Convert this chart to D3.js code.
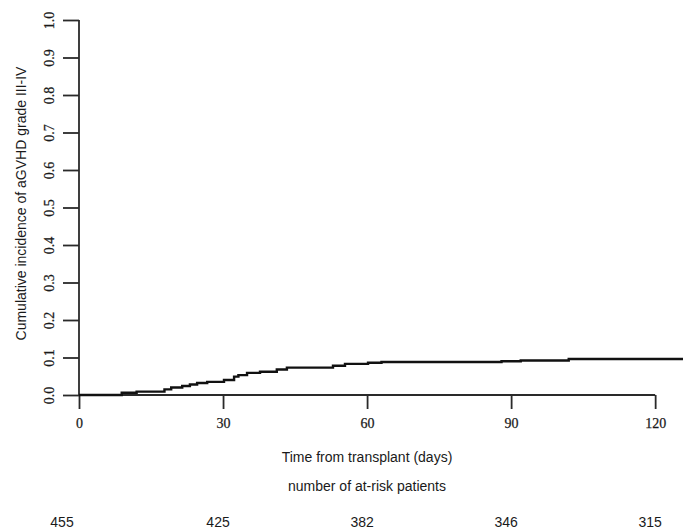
<!DOCTYPE html>
<html>
<head>
<meta charset="utf-8">
<script src="https://cdn.jsdelivr.net/npm/d3@7"></script>
<style>
  body { margin: 0; background: #fff; }
  svg { display: block; }
</style>
</head>
<body>
<div id="chart"></div>
<script>
// step times (days) and cumulative incidence
const stepDays = [0, 8.9, 12, 17.8, 19.2, 21.5, 23.1, 24.6, 26.7, 30.2, 32.3, 33.2, 35, 37.7, 41.2, 43.3, 52.9, 55.4, 60.2, 63, 88, 92, 102, 125.8];
const stepValues = [0, 0.006, 0.009, 0.015, 0.02, 0.024, 0.028, 0.032, 0.035, 0.04, 0.049, 0.053, 0.059, 0.062, 0.068, 0.073, 0.078, 0.083, 0.086, 0.088, 0.09, 0.092, 0.096, 0.096];

const xTicks = [0, 30, 60, 90, 120];
const yTicks = [0, 0.1, 0.2, 0.3, 0.4, 0.5, 0.6, 0.7, 0.8, 0.9, 1.0];
const riskTimes = [0, 30, 60, 90, 120];
const riskCounts = [455, 425, 382, 346, 315];

const width = 691;
const height = 532;
const marginLeft = 79;
const marginTop = 20;
const plotRight = 683;
const plotBottom = 395;

const x = d3.scaleLinear().domain([0, 125.8]).range([marginLeft, plotRight]);
const y = d3.scaleLinear().domain([0, 1]).range([plotBottom, marginTop]);

const svg = d3.select("#chart").append("svg")
    .attr("width", width)
    .attr("height", height);

const ink = "#1a1a1a";
const serif = "'Liberation Serif', 'DejaVu Serif', serif";
const sans = "'Liberation Sans', Arial, sans-serif";

// y axis
const yAxis = svg.append("g")
    .attr("transform", `translate(${marginLeft},0)`)
    .call(d3.axisLeft(y).tickValues(yTicks).tickFormat(d3.format(".1f")).tickSize(16).tickPadding(4));
yAxis.select(".domain").attr("d", `M0,${y(1)}V${y(0)}`);
yAxis.selectAll("line, path").attr("stroke", "#2a2a2a").attr("stroke-width", 1.8);
yAxis.selectAll("text")
    .attr("font-family", serif)
    .attr("font-size", 14)
    .attr("fill", ink)
    .attr("stroke", ink)
    .attr("stroke-width", 0.25)
    .attr("text-anchor", "middle")
    .attr("x", null).attr("dy", null)
    .attr("transform", d => `translate(-28,0) rotate(-90)`)
    .attr("dominant-baseline", "middle");

// x axis
const xAxis = svg.append("g")
    .attr("transform", `translate(0,${plotBottom})`)
    .call(d3.axisBottom(x).tickValues(xTicks).tickFormat(d3.format("d")).tickSize(14).tickPadding(9));
xAxis.select(".domain").attr("d", `M${x(0)},0H${x(120)}`);
xAxis.selectAll("line, path").attr("stroke", "#2a2a2a").attr("stroke-width", 1.8);
xAxis.selectAll("text")
    .attr("font-family", serif)
    .attr("font-size", 14)
    .attr("fill", ink)
    .attr("stroke", ink)
    .attr("stroke-width", 0.25);

// cumulative incidence step curve
const line = d3.line()
    .x((d, i) => x(stepDays[i]))
    .y((d, i) => y(stepValues[i]))
    .curve(d3.curveStepAfter);

svg.append("path")
    .datum(stepValues)
    .attr("fill", "none")
    .attr("stroke", "#111")
    .attr("stroke-width", 2.4)
    .attr("d", line);

// titles
svg.append("text")
    .attr("transform", `translate(22,${(marginTop + plotBottom) / 2 - 4}) rotate(-90)`)
    .attr("text-anchor", "middle")
    .attr("dominant-baseline", "middle")
    .attr("font-family", sans)
    .attr("font-size", 14)
    .attr("fill", ink)
    .text("Cumulative incidence of aGVHD grade III-IV");

svg.append("text")
    .attr("x", 367)
    .attr("y", 462)
    .attr("text-anchor", "middle")
    .attr("font-family", sans)
    .attr("font-size", 14)
    .attr("fill", ink)
    .text("Time from transplant (days)");

svg.append("text")
    .attr("x", 367)
    .attr("y", 491)
    .attr("text-anchor", "middle")
    .attr("font-family", sans)
    .attr("font-size", 14)
    .attr("fill", ink)
    .text("number of at-risk patients");

// at-risk numbers
svg.append("g")
    .selectAll("text")
    .data(riskCounts)
    .join("text")
    .attr("x", (d, i) => x(riskTimes[i]) + (i === 0 ? -17 : -5))
    .attr("y", 527)
    .attr("text-anchor", "middle")
    .attr("font-family", sans)
    .attr("font-size", 14)
    .attr("fill", ink)
    .text(d => d);
</script>
</body>
</html>
